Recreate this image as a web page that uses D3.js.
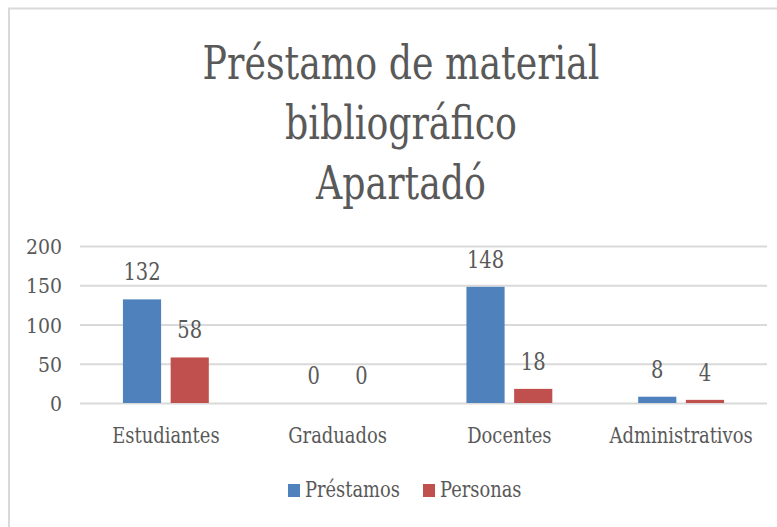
<!DOCTYPE html>
<html>
<head>
<meta charset="utf-8">
<script src="https://cdn.jsdelivr.net/npm/d3@7"></script>
<style>
  html, body { margin: 0; padding: 0; background: #fff; }
</style>
</head>
<body>
<div id="chart"></div>
<script>
// Datos del gráfico
const categorias = ['Estudiantes', 'Graduados', 'Docentes', 'Administrativos'];
const series = ['Préstamos', 'Personas'];
const prestamos = [132, 0, 148, 8];
const personas = [58, 0, 18, 4];
const ticksY = [0, 50, 100, 150, 200];
const titulo = ['Préstamo de material', 'bibliográfico', 'Apartadó'];

const colores = { 'Préstamos': '#4f81bd', 'Personas': '#c0504d' };
const FUENTE = '"DejaVu Serif", serif';
const GRIS = '#595959';

const ancho = 777, alto = 527;
const svg = d3.select('#chart').append('svg')
    .attr('width', ancho)
    .attr('height', alto);

// Borde del área del gráfico (se corta a la derecha y abajo)
svg.append('rect')
    .attr('x', 9).attr('y', 8.5)
    .attr('width', 800).attr('height', 560)
    .attr('fill', 'none')
    .attr('stroke', '#d9d9d9')
    .attr('stroke-width', 2);

// Título (la fuente original es más estrecha, se comprime en x)
svg.append('g')
    .selectAll('text')
    .data(titulo)
    .join('text')
    .attr('transform', (d, i) => `translate(401, ${79 + i * 60}) scale(0.79, 1)`)
    .attr('text-anchor', 'middle')
    .style('font-family', FUENTE)
    .style('font-size', '46px')
    .attr('fill', GRIS)
    .text(d => d);

// Escalas
const x0 = d3.scaleBand()
    .domain(categorias)
    .range([80, 767])
    .paddingInner(0.5)
    .paddingOuter(0.25);

const x1 = d3.scaleBand()
    .domain(series)
    .range([0, x0.bandwidth()])
    .paddingInner(0.2);

const y = d3.scaleLinear()
    .domain([0, 200])
    .range([403, 246]);

// Líneas de cuadrícula
svg.append('g')
    .attr('transform', 'translate(80, 0)')
    .call(d3.axisLeft(y).tickValues(ticksY).tickSize(-687).tickFormat(''))
    .call(g => g.select('.domain').remove())
    .call(g => g.selectAll('.tick line').attr('stroke', '#d9d9d9').attr('stroke-width', 2));

// Etiquetas del eje Y
svg.append('g')
    .selectAll('text')
    .data(ticksY)
    .join('text')
    .attr('transform', d => `translate(62, ${y(d) + 8}) scale(0.9, 1)`)
    .attr('text-anchor', 'end')
    .style('font-family', FUENTE)
    .style('font-size', '21px')
    .attr('fill', GRIS)
    .text(d => d);

// Etiquetas del eje X
svg.append('g')
    .selectAll('text')
    .data(categorias)
    .join('text')
    .attr('transform', d => `translate(${x0(d) + x0.bandwidth() / 2}, 443) scale(0.78, 1)`)
    .attr('text-anchor', 'middle')
    .style('font-family', FUENTE)
    .style('font-size', '23px')
    .attr('fill', GRIS)
    .text(d => d);

// Datos por categoría
const datos = categorias.map((c, i) => ({
    categoria: c,
    valores: [
        { serie: 'Préstamos', valor: prestamos[i] },
        { serie: 'Personas', valor: personas[i] }
    ]
}));

const grupos = svg.append('g')
    .selectAll('g')
    .data(datos)
    .join('g')
    .attr('transform', d => `translate(${x0(d.categoria)}, 0)`);

grupos.selectAll('rect')
    .data(d => d.valores)
    .join('rect')
    .attr('x', d => x1(d.serie))
    .attr('y', d => y(d.valor))
    .attr('width', x1.bandwidth())
    .attr('height', d => y(0) - y(d.valor))
    .attr('fill', d => colores[d.serie]);

// Etiquetas de datos
grupos.selectAll('text')
    .data(d => d.valores)
    .join('text')
    .attr('transform', d => `translate(${x1(d.serie) + x1.bandwidth() / 2}, ${y(d.valor) - 19}) scale(0.78, 1)`)
    .attr('text-anchor', 'middle')
    .style('font-family', FUENTE)
    .style('font-size', '25px')
    .attr('fill', GRIS)
    .text(d => d.valor);

// Leyenda
const leyenda = svg.append('g')
    .selectAll('g')
    .data(series)
    .join('g')
    .attr('transform', (d, i) => `translate(${288 + i * 135}, 484)`);

leyenda.append('rect')
    .attr('width', 12)
    .attr('height', 13)
    .attr('fill', d => colores[d]);

leyenda.append('text')
    .attr('transform', 'translate(17, 13) scale(0.83, 1)')
    .style('font-family', FUENTE)
    .style('font-size', '21.5px')
    .attr('fill', GRIS)
    .text(d => d);
</script>
</body>
</html>
